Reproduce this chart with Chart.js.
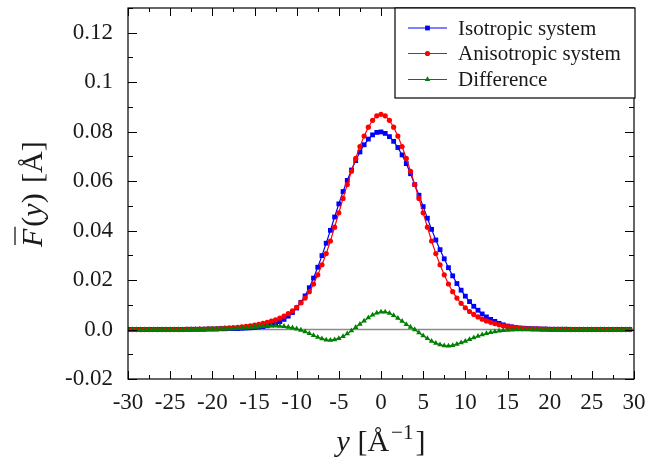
<!DOCTYPE html>
<html><head><meta charset="utf-8">
<script src="https://cdn.jsdelivr.net/npm/chart.js@4.4.0/dist/chart.umd.min.js"></script>
<style>html,body{margin:0;padding:0;background:#fff;overflow:hidden}#wrap{width:658px;height:463px}</style>
</head><body><div id="wrap"><canvas id="c" width="658" height="463"></canvas></div>
<script>
// ---- data ----
const yPositions = [
 -30,-29.5,-29,-28.5,-28,-27.5,-27,-26.5,-26,-25.5,-25,-24.5,-24,-23.5,-23,-22.5,-22,-21.5,-21,-20.5,
 -20,-19.5,-19,-18.5,-18,-17.5,-17,-16.5,-16,-15.5,-15,-14.5,-14,-13.5,-13,-12.5,-12,-11.5,-11,-10.5,
 -10,-9.5,-9,-8.5,-8,-7.5,-7,-6.5,-6,-5.5,-5,-4.5,-4,-3.5,-3,-2.5,-2,-1.5,-1,-0.5,
 0,0.5,1,1.5,2,2.5,3,3.5,4,4.5,5,5.5,6,6.5,7,7.5,8,8.5,9,9.5,
 10,10.5,11,11.5,12,12.5,13,13.5,14,14.5,15,15.5,16,16.5,17,17.5,18,18.5,19,19.5,
 20,20.5,21,21.5,22,22.5,23,23.5,24,24.5,25,25.5,26,26.5,27,27.5,28,28.5,29,29.5
];
const isotropic = [
 0,0,0,0,0,0,0,0,0,0,0,0,0,0,0.0001,0.0001,0.0001,0.0001,0.0001,0.0002,
 0.0002,0.0002,0.0003,0.0003,0.0004,0.0004,0.0004,0.0005,0.0006,0.0007,0.0008,0.0010,0.0012,0.0015,0.0019,0.0024,0.0032,0.0041,0.0054,0.0069,
 0.0087,0.0110,0.0136,0.0169,0.0208,0.0252,0.0299,0.0349,0.0401,0.0455,0.0508,0.0558,0.0603,0.0645,0.0683,0.0718,0.0747,0.0770,0.0787,0.0797,
 0.0799,0.0793,0.0780,0.0761,0.0736,0.0706,0.0671,0.0630,0.0586,0.0543,0.0497,0.0450,0.0405,0.0362,0.0323,0.0286,0.0250,0.0217,0.0186,0.0159,
 0.0135,0.0113,0.0094,0.0078,0.0063,0.0051,0.0041,0.0033,0.0025,0.0019,0.0014,0.0011,0.0008,0.0006,0.0005,0.0004,0.0003,0.0003,0.0002,0.0002,
 0.0001,0.0001,0.0001,0.0001,0.0001,0,0,0,0,0,0,0,0,0,0,0,0,0,0,0
];
const anisotropic = [
 0,0,0,0,0,0,0,0,0,0,0,0,0,0,0.0001,0.0001,0.0001,0.0002,0.0002,0.0003,
 0.0003,0.0004,0.0005,0.0006,0.0007,0.0008,0.0009,0.0011,0.0013,0.0015,0.0018,0.0021,0.0025,0.0029,0.0034,0.0039,0.0046,0.0054,0.0064,0.0076,
 0.0090,0.0108,0.0127,0.0153,0.0184,0.0221,0.0262,0.0307,0.0358,0.0414,0.0472,0.0530,0.0586,0.0640,0.0692,0.0740,0.0782,0.0818,0.0846,0.0864,
 0.0870,0.0864,0.0846,0.0818,0.0782,0.0740,0.0692,0.0640,0.0586,0.0530,0.0472,0.0414,0.0358,0.0307,0.0262,0.0221,0.0184,0.0153,0.0127,0.0106,
 0.0088,0.0073,0.0061,0.0051,0.0042,0.0035,0.0029,0.0024,0.0019,0.0015,0.0012,0.0010,0.0008,0.0006,0.0005,0.0004,0.0003,0.0003,0.0002,0.0002,
 0.0001,0.0001,0.0001,0.0001,0.0001,0,0,0,0,0,0,0,0,0,0,0,0,0,0,0
];
const difference = [
 0,0,0,0,0,0,0,0,0,0,0,0,0,0,0,0,0.0001,0.0001,0.0001,0.0001,
 0.0001,0.0002,0.0002,0.0003,0.0003,0.0004,0.0005,0.0006,0.0007,0.0008,0.0010,0.0011,0.0013,0.0014,0.0015,0.0015,0.0014,0.0013,0.0010,0.0007,
 0.0003,-0.0002,-0.0009,-0.0016,-0.0024,-0.0031,-0.0037,-0.0042,-0.0043,-0.0041,-0.0036,-0.0028,-0.0017,-0.0005,0.0009,0.0022,0.0035,0.0048,0.0059,0.0067,
 0.0071,0.0071,0.0066,0.0057,0.0046,0.0034,0.0021,0.0010,0.0000,-0.0013,-0.0025,-0.0036,-0.0047,-0.0055,-0.0061,-0.0065,-0.0066,-0.0064,-0.0059,-0.0053,
 -0.0047,-0.0040,-0.0033,-0.0027,-0.0021,-0.0016,-0.0012,-0.0009,-0.0006,-0.0004,-0.0002,-0.0001,0,0,0,0,0,0,0,0,
 0,0,0,0,0,0,0,0,0,0,0,0,0,0,0,0,0,0,0,0
];
const seriesLabels = ['Isotropic system', 'Anisotropic system', 'Difference'];
const xTickValues = [-30,-25,-20,-15,-10,-5,0,5,10,15,20,25,30];
const xTickLabels = ['-30','-25','-20','-15','-10','-5','0','5','10','15','20','25','30'];
const yTickValues = [-0.02,0,0.02,0.04,0.06,0.08,0.1,0.12];
const yTickLabels = ['-0.02','0.0','0.02','0.04','0.06','0.08','0.1','0.12'];
const xRange = [-30, 30];
const yRange = [-0.02, 0.13];

const FONT = '"Liberation Serif", "DejaVu Serif", serif';
const TXT = '#1a1a1a';
const COLORS = ['#0000ff', '#ff0000', '#008000'];
const STYLES = ['rect', 'circle', 'triangle'];
const RADII = [3.4, 2.6, 3.2];

function pts(arr){ return yPositions.map((x,i)=>({x:x, y:arr[i]})); }

function drawMarker(ctx, style, x, y, r){
  ctx.beginPath();
  if(style==='rect'){ const s=r*Math.SQRT1_2; ctx.rect(x-s,y-s,2*s,2*s); }
  else if(style==='circle'){ ctx.arc(x,y,r,0,Math.PI*2); }
  else { ctx.moveTo(x, y-r); ctx.lineTo(x+r*0.866, y+r*0.5); ctx.lineTo(x-r*0.866, y+r*0.5); ctx.closePath(); }
  ctx.fill();
}

const decor = {
  id:'decor',
  beforeDatasetsDraw(chart){
    const {ctx, chartArea:a, scales:{x,y}} = chart;
    const py = y.getPixelForValue(0);
    ctx.save();
    ctx.strokeStyle = '#8a8a8a'; ctx.lineWidth = 1.6;
    ctx.beginPath(); ctx.moveTo(a.left, py); ctx.lineTo(a.right, py); ctx.stroke();
    ctx.restore();
  },
  afterDraw(chart){
    const {ctx, chartArea:a, scales:{x,y}} = chart;
    ctx.save();
    // frame
    ctx.strokeStyle = '#000'; ctx.lineWidth = 1.2;
    ctx.strokeRect(a.left, a.top, a.right-a.left, a.bottom-a.top);
    // ticks (inward, all four sides)
    ctx.lineWidth = 1;
    ctx.beginPath();
    for(let i=0;i<xTickValues.length;i++){
      const v = xTickValues[i];
      const px = Math.round(x.getPixelForValue(v))+0.5;
      ctx.moveTo(px, a.bottom); ctx.lineTo(px, a.bottom-8);
      ctx.moveTo(px, a.top); ctx.lineTo(px, a.top+8);
      if(i<xTickValues.length-1){
        const pm = Math.round(x.getPixelForValue((v+xTickValues[i+1])/2))+0.5;
        ctx.moveTo(pm, a.bottom); ctx.lineTo(pm, a.bottom-4);
        ctx.moveTo(pm, a.top); ctx.lineTo(pm, a.top+4);
      }
    }
    for(let i=0;i<yTickValues.length;i++){
      const v = yTickValues[i];
      const py = Math.round(y.getPixelForValue(v))+0.5;
      ctx.moveTo(a.left, py); ctx.lineTo(a.left+9, py);
      ctx.moveTo(a.right, py); ctx.lineTo(a.right-9, py);
      const nv = i<yTickValues.length-1 ? yTickValues[i+1] : v+0.02;
      const pm = Math.round(y.getPixelForValue((v+nv)/2))+0.5;
      ctx.moveTo(a.left, pm); ctx.lineTo(a.left+5, pm);
      ctx.moveTo(a.right, pm); ctx.lineTo(a.right-5, pm);
    }
    ctx.stroke();

    // legend box
    const L = 395, T = a.top, R = a.right + 1, B = 98;
    ctx.fillStyle = '#fff';
    ctx.fillRect(L, T, R-L, B-T);
    ctx.strokeStyle = '#000'; ctx.lineWidth = 1.2;
    ctx.strokeRect(L, T, R-L, B-T);
    const rows = [28, 53.5, 79.5];
    ctx.font = '21px ' + FONT;
    ctx.textBaseline = 'middle'; ctx.textAlign = 'left';
    for(let i=0;i<3;i++){
      const yy = rows[i];
      ctx.strokeStyle = COLORS[i]; ctx.lineWidth = 1.2;
      ctx.beginPath(); ctx.moveTo(408, yy); ctx.lineTo(447, yy); ctx.stroke();
      ctx.fillStyle = COLORS[i];
      drawMarker(ctx, STYLES[i], 427.5, yy, RADII[i]);
      ctx.fillStyle = TXT;
      ctx.fillText(seriesLabels[i], 458, yy+1);
    }

    // y title: F-bar(y) [Å]
    ctx.fillStyle = TXT;
    ctx.textBaseline = 'alphabetic';
    const fs = 30;
    const itF = 'italic ' + fs + 'px ' + FONT, rmF = fs + 'px ' + FONT;
    ctx.save();
    ctx.translate(42, 247);
    ctx.rotate(-Math.PI/2);
    const parts = [['F',itF],['(',rmF],['y',itF],[')',rmF],[' [Å]',rmF]];
    let cx = 0;
    for(const [t,f] of parts){
      ctx.font = f; ctx.fillText(t, cx, 0);
      if(t==='F'){
        const w = ctx.measureText('F').width;
        ctx.strokeStyle = TXT; ctx.lineWidth = 1.3;
        ctx.beginPath(); ctx.moveTo(cx+2, -27); ctx.lineTo(cx+w+2, -27); ctx.stroke();
      }
      cx += ctx.measureText(t).width + (t==='F' ? 2 : 0) + (t===')' ? 3 : 0);
    }
    ctx.restore();

    // x title: y [Å^-1]
    const xparts = [['y',itF,0],[' [Å',rmF,0],['\u22121',(fs*0.7)+'px '+FONT,-12],[']',rmF,0]];
    let tw = 0;
    for(const [t,f] of xparts){ ctx.font=f; tw += ctx.measureText(t).width; }
    tw += 4;
    let sx = (a.left+a.right)/2 - tw/2;
    const base = 451;
    for(const [t,f,dy] of xparts){
      ctx.font = f; ctx.fillText(t, sx, base+dy);
      sx += ctx.measureText(t).width + (t===' [Å' ? 2 : 0) + (t==='\u22121' ? 2 : 0);
    }
    ctx.restore();
  }
};

const datasets = [isotropic, anisotropic, difference].map((arr,i)=>({
  label: seriesLabels[i],
  data: pts(arr),
  borderColor: COLORS[i],
  backgroundColor: COLORS[i],
  borderWidth: 1.2,
  pointStyle: STYLES[i],
  pointRadius: RADII[i],
  pointBorderWidth: 0,
  pointBackgroundColor: COLORS[i],
  tension: 0,
  order: 2 - i
}));

new Chart(document.getElementById('c'), {
  type: 'line',
  data: { datasets },
  plugins: [decor],
  options: {
    responsive: false,
    animation: false,
    devicePixelRatio: 1,
    layout: { padding: { left: 0, right: 24, top: 8, bottom: 0 } },
    plugins: { legend: { display: false }, tooltip: { enabled: false } },
    scales: {
      x: {
        type: 'linear', min: xRange[0], max: xRange[1],
        afterBuildTicks: s => { s.ticks = xTickValues.map(v => ({ value: v })); },
        afterFit: s => { s.height = 84; s.paddingLeft = 0; s.paddingRight = 0; },
        grid: { display: false, drawTicks: false },
        border: { display: false },
        ticks: {
          autoSkip: false, maxRotation: 0, padding: 10,
          font: { family: FONT, size: 23 }, color: TXT,
          callback: (v, i) => xTickLabels[i]
        }
      },
      y: {
        type: 'linear', min: yRange[0], max: yRange[1],
        afterBuildTicks: s => { s.ticks = yTickValues.map(v => ({ value: v })); },
        afterFit: s => { s.width = 128; s.paddingTop = 0; s.paddingBottom = 0; },
        grid: { display: false, drawTicks: false },
        border: { display: false },
        ticks: {
          autoSkip: false, padding: 15,
          font: { family: FONT, size: 23 }, color: TXT,
          callback: (v, i) => yTickLabels[i]
        }
      }
    }
  }
});
</script>
</body></html>
